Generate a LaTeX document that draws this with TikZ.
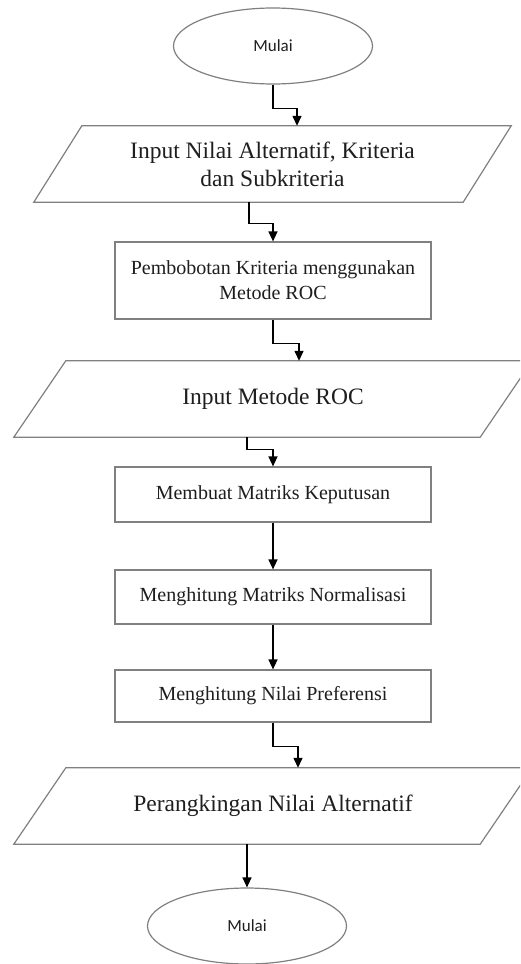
\documentclass[tikz,border=0pt]{standalone}
\usepackage{fontspec}
\setmainfont{Liberation Serif}
\newfontfamily\calfont{Carlito}
\usetikzlibrary{shapes.geometric,arrows.meta,calc}
\definecolor{outl}{RGB}{128,128,128}
\definecolor{txt}{RGB}{30,30,30}
\tikzset{
  term/.style={ellipse, draw=outl, line width=1.2pt, minimum width=199pt, minimum height=76pt, inner sep=0pt, text=txt, font=\calfont\fontsize{17}{20}\selectfont},
  procbox/.style={rectangle, draw=outl, line width=1.2pt, minimum width=316pt, inner sep=0pt, text=txt, align=center, font=\fontsize{20}{25}\selectfont},
  iobox/.style={rectangle, draw=none, minimum height=76pt, inner sep=0pt, text=txt, align=center, font=\fontsize{23.5}{28}\selectfont},
  ioline/.style={draw=outl, line width=1.2pt, line join=miter},
  arr/.style={draw=black, line width=1.4pt, -{Triangle[length=10pt,width=9pt]}}
}
\begin{document}
\begin{tikzpicture}[x=1pt,y=-1pt]
\clip (0,0) rectangle (520,964);
\fill[white] (0,0) rectangle (520,964);
% nodes
\node[term] (s) at (273,46) {Mulai};
\node[iobox, minimum width=429pt] (p1) at (272.5,164) {Input Nilai Alternatif, Kriteria\\dan Subkriteria};
\draw[ioline] ($(p1.north west)+(24,0)$) -- ($(p1.north east)+(24,0)$) -- ($(p1.south east)+(-24,0)$) -- ($(p1.south west)+(-24,0)$) -- cycle;
\node[procbox, minimum height=77pt] (b1) at (273,280.5) {Pembobotan Kriteria menggunakan\\Metode ROC};
\node[iobox, minimum width=466pt] (p2) at (273,399) {Input Metode ROC};
\draw[ioline] ($(p2.north west)+(26,0)$) -- ($(p2.north east)+(26,0)$) -- ($(p2.south east)+(-26,0)$) -- ($(p2.south west)+(-26,0)$) -- cycle;
\node[procbox, minimum height=55pt] (b2) at (273,494.5) {Membuat Matriks Keputusan};
\node[procbox, minimum height=54pt] (b3) at (273,597) {Menghitung Matriks Normalisasi};
\node[procbox, minimum height=52pt] (b4) at (273,696) {Menghitung Nilai Preferensi};
\node[iobox, minimum width=466pt] (p3) at (273,806) {Perangkingan Nilai Alternatif};
\draw[ioline] ($(p3.north west)+(26,0)$) -- ($(p3.north east)+(26,0)$) -- ($(p3.south east)+(-26,0)$) -- ($(p3.south west)+(-26,0)$) -- cycle;
\node[term] (e) at (247,926) {Mulai};
% connectors
\draw[arr] (s.south) -- ($(s.south)+(0,24)$) -| ($(p1.north)+(24.5,0)$);
\draw[arr] ($(p1.south)+(-23.5,0)$) -- ++(0,21) -| (b1.north);
\draw[arr] (b1.south) -- ++(0,24) -| ($(p2.north)+(26,0)$);
\draw[arr] ($(p2.south)+(-26,0)$) -- ++(0,12) -| (b2.north);
\draw[arr] (b2.south) -- (b3.north);
\draw[arr] (b3.south) -- (b4.north);
\draw[arr] (b4.south) -- ++(0,24) -| ($(p3.north)+(25,0)$);
\draw[arr] ($(p3.south)+(-26,0)$) -- (e.north);
\end{tikzpicture}
\end{document}
